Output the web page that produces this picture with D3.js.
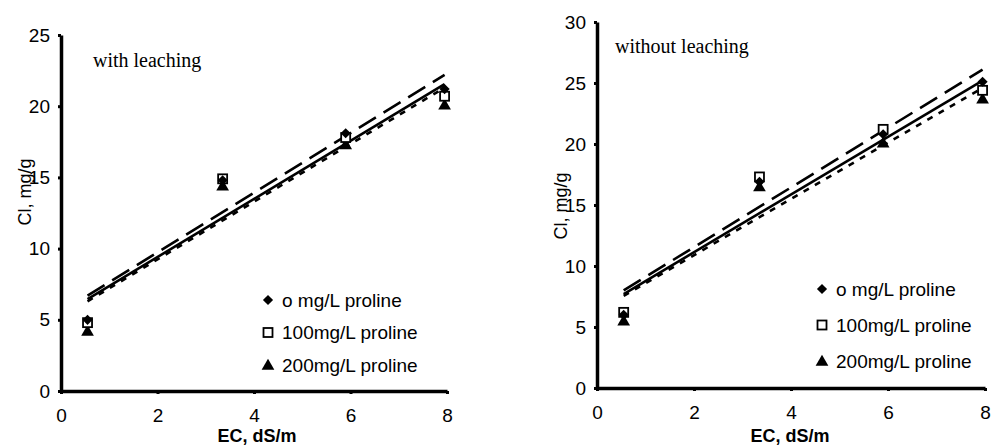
<!DOCTYPE html>
<html>
<head>
<meta charset="utf-8">
<script src="https://cdn.jsdelivr.net/npm/d3@7"></script>
<style>
  body { margin: 0; background: #fff; }
  svg { display: block; }
  .tick text { font-family: "Liberation Sans", Arial, sans-serif; font-size: 19px; fill: #000; }
</style>
</head>
<body>
<svg id="chart" width="1001" height="448"></svg>
<script>
// EC levels (x) shared by both panels
const ec = [0.55, 3.35, 5.9, 7.95];
const seriesNames = ['o mg/L proline', '100mg/L proline', '200mg/L proline'];

// with leaching, Cl mg/g
const leachP0 = [5.0, 14.8, 18.1, 21.2];
const leachP100 = [4.8, 14.9, 17.8, 20.7];
const leachP200 = [4.2, 14.4, 17.3, 20.1];
// trend lines: value at first and last EC
const leachTrend = [[6.7, 22.2], [6.45, 21.55], [6.3, 21.3]];

// without leaching, Cl mg/g
const noLeachP0 = [6.0, 16.9, 20.8, 25.1];
const noLeachP100 = [6.2, 17.3, 21.2, 24.4];
const noLeachP200 = [5.5, 16.5, 20.1, 23.7];
const noLeachTrend = [[8.0, 26.1], [7.7, 25.2], [7.55, 24.6]];

const xTicks = [0, 2, 4, 6, 8];
const yTicksLeft = [0, 5, 10, 15, 20, 25];
const yTicksRight = [0, 5, 10, 15, 20, 25, 30];

const panels = [
  { title: 'with leaching', series: [leachP0, leachP100, leachP200], trend: leachTrend, yMax: 25, yTicks: yTicksLeft,
    x0: 61, x1: 447, y0: 391, y1: 35, titlePos: [93, 67], legend: [268, 300, 32.5], ylab: [25, 192], xlab: 257 },
  { title: 'without leaching', series: [noLeachP0, noLeachP100, noLeachP200], trend: noLeachTrend, yMax: 30, yTicks: yTicksRight,
    x0: 597, x1: 985, y0: 388, y1: 22, titlePos: [615, 53], legend: [822, 289, 36], ylab: [561, 206], xlab: 790 }
];

const dashes = ['20,9', null, '6,7'];
const svg = d3.select('#chart');

function marker(g, k, cx, cy) {
  if (k === 0) {
    g.append('rect').attr('x', -3.6).attr('y', -3.6).attr('width', 7.2).attr('height', 7.2)
      .attr('transform', `translate(${cx},${cy}) rotate(45)`).attr('fill', '#000');
  } else if (k === 1) {
    g.append('rect').attr('x', cx - 4.5).attr('y', cy - 4.5).attr('width', 9).attr('height', 9)
      .attr('fill', '#fff').attr('stroke', '#000').attr('stroke-width', 1.8);
  } else {
    g.append('path').attr('d', d3.symbol(d3.symbolTriangle, 70)())
      .attr('transform', `translate(${cx},${cy + 1})`).attr('fill', '#000');
  }
}

panels.forEach(p => {
  let x = d3.scaleLinear().domain([0, 8]).range([p.x0, p.x1]);
  let y = d3.scaleLinear().domain([0, p.yMax]).range([p.y0, p.y1]);
  let g = svg.append('g');
  let xs = d3.extent(ec);

  // trend lines
  p.trend.forEach((t, k) => {
    g.append('line')
      .attr('x1', x(xs[0])).attr('y1', y(t[0]))
      .attr('x2', x(xs[1])).attr('y2', y(t[1]))
      .attr('stroke', '#000').attr('stroke-width', 2.6)
      .attr('stroke-dasharray', dashes[k]);
  });

  // markers, triangles underneath
  [2, 1, 0].forEach(k => {
    p.series[k].forEach((v, i) => marker(g, k, x(ec[i]), y(v)));
  });

  let ya = g.append('g').attr('transform', `translate(${p.x0},0)`)
    .call(d3.axisLeft(y).tickValues(p.yTicks).tickSize(3).tickSizeOuter(0).tickPadding(8));
  let xa = g.append('g').attr('transform', `translate(0,${p.y0})`)
    .call(d3.axisBottom(x).tickValues(xTicks).tickSize(3).tickSizeOuter(0).tickPadding(15));
  [ya, xa].forEach(a => {
    a.select('.domain').attr('stroke-width', 3.5);
    a.selectAll('.tick line').attr('stroke-width', 3);
  });

  g.append('text').attr('x', p.titlePos[0]).attr('y', p.titlePos[1])
    .attr('font-family', '"Liberation Serif", "Times New Roman", serif').attr('font-size', 20)
    .text(p.title);

  g.append('text')
    .attr('transform', `translate(${p.ylab[0]},${p.ylab[1]}) rotate(-90)`)
    .attr('text-anchor', 'middle').attr('dy', '0.35em')
    .attr('font-family', '"Liberation Sans", Arial, sans-serif').attr('font-size', 18)
    .text('Cl, mg/g');

  g.append('text').attr('x', p.xlab).attr('y', 442)
    .attr('text-anchor', 'middle').attr('font-weight', 'bold')
    .attr('font-family', '"Liberation Sans", Arial, sans-serif').attr('font-size', 18)
    .text('EC, dS/m');

  // legend
  seriesNames.forEach((name, k) => {
    let ly = p.legend[1] + k * p.legend[2];
    marker(g, k, p.legend[0], ly);
    g.append('text').attr('x', p.legend[0] + 14).attr('y', ly).attr('dy', '0.35em')
      .attr('font-family', '"Liberation Sans", Arial, sans-serif').attr('font-size', 19)
      .text(name);
  });
});
</script>
</body>
</html>
